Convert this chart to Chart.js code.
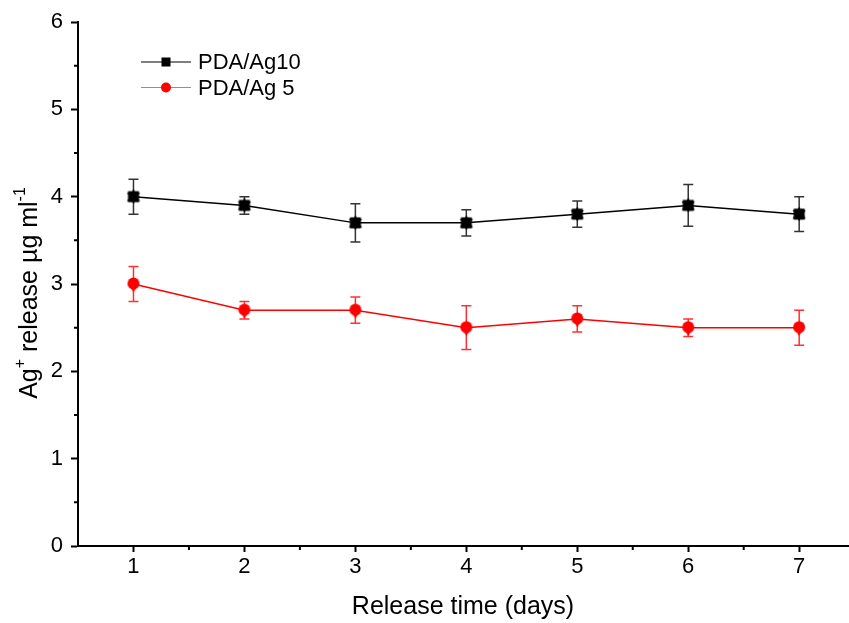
<!DOCTYPE html>
<html>
<head>
<meta charset="utf-8">
<script src="https://cdn.jsdelivr.net/npm/chart.js@4/dist/chart.umd.min.js"></script>
<style>
  body { margin: 0; background: #fff; }
  #wrap { width: 849px; height: 623px; }
</style>
</head>
<body>
<div id="wrap"><canvas id="releaseChart"></canvas></div>
<script>
// release data
const days = [1, 2, 3, 4, 5, 6, 7];
const yTicks = [0, 1, 2, 3, 4, 5, 6];

const ag10 = [4.0, 3.9, 3.7, 3.7, 3.8, 3.9, 3.8];
const ag10Err = [0.2, 0.1, 0.22, 0.15, 0.15, 0.24, 0.2];

const ag5 = [3.0, 2.7, 2.7, 2.5, 2.6, 2.5, 2.5];
const ag5Err = [0.2, 0.1, 0.15, 0.25, 0.15, 0.1, 0.2];

const FONT = '"Liberation Sans", Arial, sans-serif';

const toPoints = vals => vals.map((v, i) => ({ x: days[i], y: v }));

// marker images: square with triangle tips, circle with a point below
const makeMarker = (color, kind) => {
    const c = document.createElement('canvas');
    c.width = 18; c.height = 18;
    const g = c.getContext('2d');
    g.fillStyle = color;
    g.translate(9, 9);
    if (kind === 'square') {
        g.fillRect(-5.5, -5.5, 11, 11);
        g.beginPath();
        g.moveTo(0, -7.5); g.lineTo(6.5, 4.5); g.lineTo(-6.5, 4.5); g.closePath();
        g.fill();
        g.beginPath();
        g.moveTo(0, 7); g.lineTo(6.5, -4); g.lineTo(-6.5, -4); g.closePath();
        g.fill();
    } else {
        g.beginPath();
        g.arc(0, -0.5, 6, 0, Math.PI * 2);
        g.fill();
        g.beginPath();
        g.moveTo(0, 8); g.lineTo(5.5, 0); g.lineTo(-5.5, 0); g.closePath();
        g.fill();
    }
    return c;
};

// error bars, drawn under the markers
const errorBars = {
    id: 'errorBars',
    beforeDatasetsDraw(chart) {
        const ctx = chart.ctx;
        const xs = chart.scales.x, ys = chart.scales.y;
        chart.data.datasets.forEach(ds => {
            ctx.save();
            ctx.strokeStyle = ds.errColor;
            ctx.lineWidth = 1.5;
            ds.data.forEach((p, i) => {
                const px = xs.getPixelForValue(p.x);
                const top = ys.getPixelForValue(p.y + ds.err[i]);
                const bot = ys.getPixelForValue(p.y - ds.err[i]);
                ctx.beginPath();
                ctx.moveTo(px, top); ctx.lineTo(px, bot);
                ctx.moveTo(px - 5, top); ctx.lineTo(px + 5, top);
                ctx.moveTo(px - 5, bot); ctx.lineTo(px + 5, bot);
                ctx.stroke();
            });
            ctx.restore();
        });
    }
};

// minor ticks, y title with superscripts, legend
const extras = {
    id: 'extras',
    afterDraw(chart) {
        const ctx = chart.ctx;
        const xs = chart.scales.x, ys = chart.scales.y;
        const area = chart.chartArea;
        ctx.save();
        ctx.strokeStyle = '#000';
        ctx.lineWidth = 2;
        ctx.beginPath();
        for (let v = 0.5; v < 6; v += 1) {
            const py = ys.getPixelForValue(v);
            ctx.moveTo(area.left, py); ctx.lineTo(area.left - 4, py);
        }
        for (let v = 1.5; v < 7.4; v += 1) {
            const px = xs.getPixelForValue(v);
            ctx.moveTo(px, area.bottom); ctx.lineTo(px, area.bottom + 4);
        }
        ctx.stroke();

        // y axis title
        ctx.fillStyle = '#000';
        ctx.textBaseline = 'alphabetic';
        const big = '25px ' + FONT, small = '16px ' + FONT;
        const parts = [
            ['Ag', big, 0], ['+', small, -12], [' release \u00b5g ml', big, 0], ['-1', small, -12]
        ];
        let total = 0;
        parts.forEach(p => { ctx.font = p[1]; total += ctx.measureText(p[0]).width; });
        ctx.translate(37, 293 + total / 2);
        ctx.rotate(-Math.PI / 2);
        let cx = 0;
        parts.forEach(p => {
            ctx.font = p[1];
            ctx.fillText(p[0], cx, p[2]);
            cx += ctx.measureText(p[0]).width;
        });
        ctx.restore();

        // legend
        ctx.save();
        chart.data.datasets.forEach((ds, i) => {
            const ly = 62 + i * 25.5;
            ctx.strokeStyle = ds.legendLine;
            ctx.lineWidth = 1.2;
            ctx.beginPath();
            ctx.moveTo(141, ly); ctx.lineTo(191, ly);
            ctx.stroke();
            ctx.fillStyle = ds.legendColor;
            if (ds.legendShape === 'rect') {
                ctx.fillRect(161.5, ly - 4.5, 9, 9);
            } else {
                ctx.beginPath();
                ctx.arc(166, ly, 5, 0, Math.PI * 2);
                ctx.fill();
            }
            ctx.fillStyle = '#000';
            ctx.font = '22px ' + FONT;
            ctx.textBaseline = 'middle';
            ctx.fillText(ds.label, 198, ly + 1);
        });
        ctx.restore();
    }
};

const data = {
    datasets: [{
        label: 'PDA/Ag10',
        data: toPoints(ag10),
        err: ag10Err,
        errColor: '#333',
        legendLine: '#000',
        legendColor: '#000',
        legendShape: 'rect',
        borderColor: '#000',
        borderWidth: 1.5,
        pointStyle: makeMarker('#000', 'square'),
        pointRadius: 7
    }, {
        label: 'PDA/Ag 5',
        data: toPoints(ag5),
        err: ag5Err,
        errColor: '#ff3030',
        legendLine: '#ff6060',
        legendColor: '#ff0000',
        legendShape: 'circle',
        borderColor: '#ff0000',
        borderWidth: 1.5,
        pointStyle: makeMarker('#ff0000', 'circle'),
        pointRadius: 7
    }]
};

const ctx = document.getElementById('releaseChart');
new Chart(ctx, {
    type: 'line',
    data: data,
    plugins: [errorBars, extras],
    options: {
        responsive: true,
        maintainAspectRatio: false,
        animation: false,
        layout: { autoPadding: false, padding: { top: 22, right: 1, left: 0, bottom: 0 } },
        plugins: { legend: { display: false }, tooltip: { enabled: false } },
        scales: {
            x: {
                type: 'linear',
                min: 0.5,
                max: 7.44,
                afterFit: s => { s.height = 77; s.paddingLeft = 0; s.paddingRight = 0; },
                afterBuildTicks: s => { s.ticks = days.map(v => ({ value: v })); },
                grid: { drawOnChartArea: false, tickLength: 6, tickWidth: 2, tickColor: '#000' },
                border: { color: '#000', width: 2 },
                ticks: { color: '#000', font: { family: FONT, size: 22 }, padding: 2, maxRotation: 0 },
                title: {
                    display: true,
                    text: 'Release time (days)',
                    color: '#000',
                    font: { family: FONT, size: 25 },
                    padding: { top: 0, bottom: 1 }
                }
            },
            y: {
                min: 0,
                max: 6,
                afterFit: s => { s.width = 78; },
                afterBuildTicks: s => { s.ticks = yTicks.map(v => ({ value: v })); },
                grid: { drawOnChartArea: false, tickLength: 7, tickWidth: 2, tickColor: '#000' },
                border: { color: '#000', width: 2 },
                ticks: { color: '#000', font: { family: FONT, size: 22 }, padding: 8 }
            }
        }
    }
});
</script>
</body>
</html>
